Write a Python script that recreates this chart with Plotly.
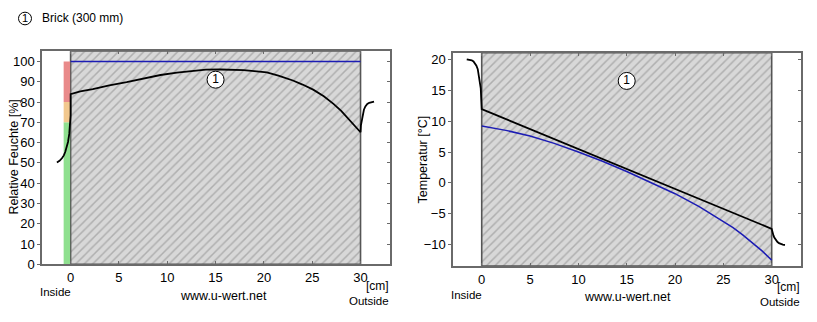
import plotly.graph_objects as go

W, H = 817, 322

# ---- layer -----------------------------------------------------------
layer_start, layer_end = 0, 30          # cm, brick 300 mm

# ---- relative humidity profile (left panel) --------------------------
rh_x = [-1.42, -1.15, -0.9, -0.7, -0.55, -0.4, -0.27, -0.14, -0.07, -0.03, 0.0, 0.0,
        1.0, 2.3, 4.0, 5.8, 7.5, 9.3, 11.0, 12.7, 14.0, 15.5, 17.0, 17.9, 19.0,
        20.3, 21.5, 23.0, 24.0, 25.1, 26.2, 27.2, 28.0, 28.9, 30.0,
        30.04, 30.13, 30.23, 30.35, 30.5, 30.7, 30.9, 31.05, 31.4]
rh_y = [50.2, 51.0, 52.3, 53.7, 55.5, 57.6, 60.3, 64.3, 67.5, 70.7, 73.5, 83.9,
        85.2, 86.3, 88.2, 89.8, 91.6, 93.3, 94.5, 95.5, 95.9, 96.0, 95.9, 95.7, 95.2,
        94.6, 93.0, 90.6, 88.6, 86.1, 82.8, 79.1, 75.6, 71.0, 65.1,
        68.5, 71.4, 74.0, 76.2, 77.8, 79.0, 79.6, 79.9, 80.2]
rh_sat_x = [0, 30]
rh_sat_y = [100, 100]

# comfort bands on the inside surface: (from %, to %, colour)
band_lo = [0, 70, 80]
band_hi = [70, 80, 100]
band_col = ["#8fe08f", "#f2c88e", "#e98a8a"]

# ---- temperature profile (right panel) --------------------------------
t_x = [-1.55, -1.3, -1.03, -0.85, -0.69, -0.55, -0.41, -0.25, -0.16, -0.1, -0.04, 0.0,
       30.0, 30.03, 30.1, 30.18, 30.27, 30.4, 30.58, 30.75, 30.93, 31.15, 31.37]
t_y = [20.0, 19.95, 19.84, 19.65, 19.37, 18.95, 18.4, 17.1, 16.2, 15.3, 13.2, 11.95,
       -7.43, -7.7, -8.06, -8.5, -8.84, -9.2, -9.53, -9.75, -9.89, -9.98, -10.05]
dew_x = [0, 2.5, 5, 7.5, 10, 12.5, 15, 17.5, 20, 22.5, 25, 26, 27, 28, 29, 30]
dew_y = [9.2, 8.5, 7.6, 6.4, 5.0, 3.5, 1.85, 0.1, -1.75, -3.85, -6.2, -7.25,
         -8.4, -9.65, -11.0, -12.5]

# ---- axes --------------------------------------------------------------
x_ticks = [0, 5, 10, 15, 20, 25, 30]
rh_ticks = [0, 10, 20, 30, 40, 50, 60, 70, 80, 90, 100]
t_ticks = [-10, -5, 0, 5, 10, 15, 20]
rh_range = [0, 105]
t_range = [-13.46, 21.05]
x1_range = [-2.93, 33.05]
x2_range = [-2.94, 33.0]

FONT = "Liberation Sans, Arial, sans-serif"
AXC = "#6a6a6a"

fig = go.Figure()


def layer_box(xa, ya, yr):
    fig.add_trace(go.Scatter(
        x=[layer_start, layer_end, layer_end, layer_start, layer_start],
        y=[yr[0], yr[0], yr[1], yr[1], yr[0]],
        xaxis=xa, yaxis=ya, mode="lines", fill="toself",
        fillcolor="#d8d8d8",
        fillpattern=dict(shape="/", bgcolor="#d8d8d8", fgcolor="#868686",
                         size=6, solidity=0.25),
        line=dict(color="#555555", width=1.6),
        hoverinfo="skip", showlegend=False))


# left panel
layer_box("x", "y", rh_range)
for lo, hi, c in zip(band_lo, band_hi, band_col):
    fig.add_trace(go.Scatter(
        x=[-0.72, -0.05, -0.05, -0.72], y=[lo, lo, hi, hi],
        xaxis="x", yaxis="y", mode="lines", fill="toself",
        fillcolor=c, line=dict(width=0), hoverinfo="skip", showlegend=False))
fig.add_trace(go.Scatter(x=rh_sat_x, y=rh_sat_y, xaxis="x", yaxis="y",
                         mode="lines", line=dict(color="#1c1cb4", width=1.5),
                         showlegend=False))
fig.add_trace(go.Scatter(x=rh_x, y=rh_y, xaxis="x", yaxis="y", mode="lines",
                         line=dict(color="black", width=1.8),
                         showlegend=False))
fig.add_trace(go.Scatter(x=[15], y=[91.0], xaxis="x", yaxis="y",
                         mode="markers+text", text=["1"],
                         textposition="middle center",
                         textfont=dict(family=FONT, size=12, color="black"),
                         marker=dict(size=17, color="white",
                                     line=dict(color="black", width=1)),
                         showlegend=False))

# right panel
layer_box("x2", "y2", t_range)
fig.add_trace(go.Scatter(x=dew_x, y=dew_y, xaxis="x2", yaxis="y2",
                         mode="lines",
                         line=dict(color="#1c1cb4", width=1.5),
                         showlegend=False))
fig.add_trace(go.Scatter(x=t_x, y=t_y, xaxis="x2", yaxis="y2", mode="lines",
                         line=dict(color="black", width=1.8),
                         showlegend=False))
fig.add_trace(go.Scatter(x=[15], y=[16.5], xaxis="x2", yaxis="y2",
                         mode="markers+text", text=["1"],
                         textposition="middle center",
                         textfont=dict(family=FONT, size=12, color="black"),
                         marker=dict(size=17, color="white",
                                     line=dict(color="black", width=1)),
                         showlegend=False))

x1_dom = [42.3 / W, 390 / W]
x2_dom = [453.3 / W, 800.7 / W]
y1_dom = [1 - 271 / H, 1 - 51.7 / H]
y2_dom = [1 - 272.7 / H, 1 - 53.3 / H]

xcommon = dict(showgrid=False, zeroline=False, showline=True, linecolor=AXC,
               linewidth=2, mirror="ticks", ticks="inside", ticklen=3,
               tickcolor=AXC, tickwidth=1, tickvals=x_ticks,
               tickfont=dict(family=FONT, size=13, color="black"))
ycommon = dict(showgrid=False, zeroline=False, showline=True, linecolor=AXC,
               linewidth=2, ticks="outside", ticklen=3, tickcolor=AXC,
               tickwidth=1, tickfont=dict(family=FONT, size=13, color="black"))
yright = dict(showgrid=False, zeroline=False, showline=True, linecolor=AXC,
              linewidth=2, ticks="inside", ticklen=3, tickcolor=AXC,
              tickwidth=1, showticklabels=False, side="right")

fig.update_layout(
    width=W, height=H, margin=dict(l=0, r=0, t=0, b=0),
    paper_bgcolor="white", plot_bgcolor="white", showlegend=False,
    font=dict(family=FONT, size=12, color="black"),
    xaxis=dict(domain=x1_dom, range=x1_range, anchor="y", **xcommon),
    yaxis=dict(domain=y1_dom, range=rh_range, anchor="x", tickvals=rh_ticks,
               **ycommon),
    yaxis3=dict(domain=y1_dom, range=rh_range, anchor="x", overlaying="y",
                tickvals=rh_ticks, **yright),
    xaxis2=dict(domain=x2_dom, range=x2_range, anchor="y2", **xcommon),
    yaxis2=dict(domain=y2_dom, range=t_range, anchor="x2", tickvals=t_ticks,
                **ycommon),
    yaxis4=dict(domain=y2_dom, range=t_range, anchor="x2", overlaying="y2",
                tickvals=t_ticks, **yright),
)
# keep the overlay axes visible even without traces
fig.add_trace(go.Scatter(x=[None], y=[None], xaxis="x", yaxis="y3",
                         showlegend=False))
fig.add_trace(go.Scatter(x=[None], y=[None], xaxis="x2", yaxis="y4",
                         showlegend=False))


def px_text(text, x, y, size=11.5, xanchor="center", angle=0):
    fig.add_annotation(text=text, x=x / W, y=1 - y / H, xref="paper",
                       yref="paper", showarrow=False, xanchor=xanchor,
                       yanchor="middle", textangle=angle, borderpad=0,
                       font=dict(family=FONT, size=size, color="black"))


# heading with layer marker
fig.add_shape(type="circle", xref="paper", yref="paper",
              x0=18.5 / W, x1=31.5 / W, y0=1 - 24.5 / H, y1=1 - 11.5 / H,
              line=dict(color="black", width=1), fillcolor="white")
px_text("1", 25, 18, size=11)
px_text("Brick (300 mm)", 41, 18, size=12, xanchor="left")

# axis titles
px_text("Relative Feuchte [%]", 13, 161, size=12.5, angle=-90)
px_text("Temperatur [°C]", 423, 163, size=12.5, angle=-90)

# labels under the panels
px_text("Inside", 55.5, 299.5)
px_text("www.u-wert.net", 223, 303, size=12.5)
px_text("[cm]", 389.5, 293, size=12, xanchor="right")
px_text("Outside", 389.5, 308.5, xanchor="right")

px_text("Inside", 466, 302.5)
px_text("www.u-wert.net", 627, 305, size=12.5)
px_text("[cm]", 800.7, 294.5, size=12, xanchor="right")
px_text("Outside", 800.7, 310, xanchor="right")

fig.write_html("out.html")
